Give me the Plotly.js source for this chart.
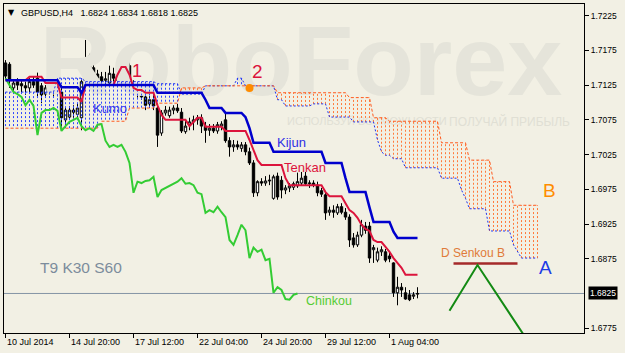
<!DOCTYPE html>
<html><head><meta charset="utf-8">
<script src="https://cdn.plot.ly/plotly-3.0.1.min.js"></script>
<style>html,body{margin:0;padding:0;background:#F2F0E4;}#chart{width:625px;height:353px;}</style>
</head><body><div id="chart"></div>
<script>
const symbolTitle = 'GBPUSD,H4';
const tickBars = [0, 16, 32, 48, 64, 80, 96];
const tickLabels = ['10 Jul 2014', '14 Jul 20:00', '17 Jul 12:00', '22 Jul 04:00', '24 Jul 20:00', '29 Jul 12:00', '1 Aug 04:00'];
const priceTicks = [1.6775, 1.6875, 1.6925, 1.6975, 1.7025, 1.7075, 1.7125, 1.7175, 1.7225];

const open = [
1.7157,1.7155,1.7121,1.7130,1.7127,1.7124,1.7121,1.7130,1.7135,1.7124,
1.7112,1.7121,1.7115,1.7118,1.7115,1.7075,1.7079,1.7089,1.7083,1.7078,
1.7132,1.7144,1.7150,1.7141,1.7137,1.7132,1.7128,1.7141,1.7132,1.7135,
1.7127,1.7153,1.7125,1.7118,1.7114,1.7108,1.7098,1.7104,1.7092,1.7056,
1.7085,1.7081,1.7089,1.7092,1.7086,1.7058,1.7068,1.7072,1.7075,1.7078,
1.7066,1.7060,1.7063,1.7059,1.7066,1.7075,1.7045,1.7036,1.7039,1.7034,
1.7039,1.7029,1.7013,1.6970,1.6986,1.6984,1.6987,1.6962,1.6994,1.6988,
1.6974,1.6977,1.6978,1.6980,1.6984,1.6994,1.6983,1.6984,1.6981,1.6973,
1.6967,1.6942,1.6945,1.6941,1.6950,1.6942,1.6935,1.6905,1.6895,1.6909,
1.6922,1.6922,1.6888,1.6873,1.6885,1.6885,1.6879,1.6869,1.6826,1.6834,
1.6826,1.6823,1.6821,1.6824];
const high = [
1.7161,1.7158,1.7132,1.7135,1.7132,1.7130,1.7135,1.7138,1.7143,1.7128,
1.7125,1.7127,1.7124,1.7124,1.7125,1.7092,1.7095,1.7096,1.7098,1.7135,
1.7190,1.7170,1.7155,1.7147,1.7144,1.7144,1.7153,1.7150,1.7141,1.7141,
1.7141,1.7158,1.7132,1.7127,1.7121,1.7115,1.7109,1.7115,1.7098,1.7089,
1.7095,1.7094,1.7096,1.7098,1.7092,1.7075,1.7078,1.7081,1.7082,1.7083,
1.7072,1.7069,1.7069,1.7072,1.7073,1.7085,1.7050,1.7046,1.7045,1.7043,
1.7043,1.7035,1.7017,1.6988,1.6991,1.6994,1.6996,1.6996,1.6999,1.6994,
1.6981,1.6984,1.6986,1.6999,1.7000,1.7000,1.6988,1.6988,1.6986,1.6977,
1.6971,1.6950,1.6952,1.6954,1.6955,1.6948,1.6939,1.6912,1.6914,1.6931,
1.6928,1.6928,1.6895,1.6891,1.6893,1.6889,1.6885,1.6870,1.6849,1.6840,
1.6834,1.6830,1.6827,1.6834];
const low = [
1.7132,1.7121,1.7115,1.7118,1.7115,1.7111,1.7115,1.7121,1.7109,1.7099,
1.7109,1.7111,1.7107,1.7109,1.7063,1.7068,1.7075,1.7078,1.7078,1.7060,
1.7130,1.7141,1.7135,1.7132,1.7127,1.7125,1.7124,1.7130,1.7128,1.7130,
1.7124,1.7121,1.7111,1.7107,1.7104,1.7089,1.7092,1.7089,1.7036,1.7052,
1.7081,1.7078,1.7083,1.7085,1.7056,1.7055,1.7060,1.7060,1.7068,1.7056,
1.7042,1.7052,1.7056,1.7055,1.7060,1.7042,1.7022,1.7029,1.7032,1.7029,
1.7024,1.7010,1.6964,1.6965,1.6980,1.6980,1.6981,1.6960,1.6960,1.6962,
1.6968,1.6971,1.6974,1.6977,1.6980,1.6980,1.6977,1.6978,1.6965,1.6964,
1.6931,1.6937,1.6934,1.6938,1.6939,1.6931,1.6892,1.6891,1.6892,1.6906,
1.6911,1.6869,1.6869,1.6870,1.6879,1.6870,1.6870,1.6820,1.6808,1.6820,
1.6816,1.6814,1.6817,1.6818];
const close = [
1.7138,1.7132,1.7128,1.7125,1.7124,1.7121,1.7130,1.7125,1.7115,1.7111,
1.7121,1.7115,1.7118,1.7114,1.7078,1.7089,1.7089,1.7086,1.7092,1.7130,
1.7161,1.7167,1.7140,1.7135,1.7131,1.7134,1.7142,1.7135,1.7137,1.7132,
1.7135,1.7125,1.7115,1.7112,1.7108,1.7096,1.7104,1.7095,1.7053,1.7085,
1.7089,1.7089,1.7092,1.7088,1.7059,1.7066,1.7072,1.7075,1.7078,1.7066,
1.7060,1.7063,1.7059,1.7068,1.7069,1.7045,1.7036,1.7039,1.7036,1.7039,
1.7029,1.7013,1.6970,1.6986,1.6984,1.6987,1.6988,1.6993,1.6964,1.6974,
1.6977,1.6980,1.6983,1.6986,1.6991,1.6983,1.6984,1.6981,1.6970,1.6968,
1.6941,1.6945,1.6942,1.6950,1.6942,1.6935,1.6902,1.6895,1.6909,1.6924,
1.6916,1.6876,1.6891,1.6885,1.6888,1.6873,1.6875,1.6826,1.6834,1.6830,
1.6817,1.6816,1.6823,1.6825];

const tenkan = [
1.7132,1.7132,1.7132,1.7132,1.7132,1.7132,1.7137,1.7137,1.7137,1.7137,
1.7128,1.7128,1.7128,1.7128,1.7107,1.7107,1.7107,1.7107,1.7107,1.7101,
1.7125,1.7125,1.7125,1.7125,1.7125,1.7125,1.7125,1.7125,1.7140,1.7151,
1.7151,1.7140,1.7121,1.7118,1.7118,1.7114,1.7114,1.7114,1.7096,1.7082,
1.7075,1.7075,1.7075,1.7075,1.7075,1.7075,1.7066,1.7072,1.7078,1.7078,
1.7065,1.7065,1.7065,1.7065,1.7065,1.7059,1.7059,1.7059,1.7059,1.7059,
1.7059,1.7046,1.7032,1.7017,1.7010,1.7010,1.7010,1.7010,1.7010,1.7010,
1.6991,1.6981,1.6981,1.6981,1.6981,1.6981,1.6981,1.6981,1.6981,1.6981,
1.6971,1.6965,1.6965,1.6965,1.6965,1.6955,1.6945,1.6941,1.6934,1.6924,
1.6918,1.6915,1.6902,1.6899,1.6899,1.6892,1.6885,1.6876,1.6869,1.6862,
1.6852,1.6852,1.6852,1.6852];
const kijun = [
1.7132,1.7132,1.7132,1.7132,1.7132,1.7132,1.7132,1.7132,1.7132,1.7132,
1.7132,1.7132,1.7132,1.7132,1.7122,1.7122,1.7122,1.7122,1.7122,1.7114,
1.7125,1.7125,1.7125,1.7125,1.7125,1.7125,1.7125,1.7125,1.7125,1.7125,
1.7125,1.7125,1.7125,1.7125,1.7125,1.7125,1.7125,1.7125,1.7114,1.7114,
1.7114,1.7114,1.7114,1.7114,1.7114,1.7114,1.7114,1.7114,1.7114,1.7114,
1.7104,1.7092,1.7092,1.7092,1.7092,1.7085,1.7085,1.7085,1.7085,1.7085,
1.7079,1.7063,1.7042,1.7042,1.7042,1.7042,1.7042,1.7029,1.7029,1.7029,
1.7029,1.7029,1.7029,1.7029,1.7029,1.7029,1.7029,1.7029,1.7029,1.7029,
1.7013,1.7013,1.7013,1.7013,1.7013,1.6991,1.6971,1.6971,1.6971,1.6971,
1.6971,1.6949,1.6928,1.6928,1.6928,1.6928,1.6928,1.6914,1.6905,1.6905,
1.6905,1.6905,1.6905,1.6905];
const senkouA = [
1.7115,1.7115,1.7115,1.7115,1.7115,1.7115,1.7115,1.7115,1.7115,1.7115,
1.7115,1.7115,1.7115,1.7135,1.7135,1.7135,1.7135,1.7135,1.7135,1.7135,
1.7130,1.7130,1.7130,1.7130,1.7130,1.7130,1.7130,1.7130,1.7130,1.7130,
1.7130,1.7130,1.7130,1.7130,1.7130,1.7130,1.7130,1.7130,1.7127,1.7127,
1.7127,1.7127,1.7127,1.7127,1.7112,1.7112,1.7112,1.7112,1.7112,1.7112,
1.7124,1.7124,1.7124,1.7124,1.7124,1.7124,1.7124,1.7124,1.7135,1.7135,
1.7124,1.7124,1.7124,1.7124,1.7124,1.7124,1.7124,1.7124,1.7104,1.7104,
1.7095,1.7095,1.7095,1.7095,1.7095,1.7095,1.7095,1.7098,1.7098,1.7098,
1.7098,1.7079,1.7079,1.7079,1.7079,1.7079,1.7079,1.7072,1.7072,1.7072,
1.7072,1.7072,1.7072,1.7046,1.7029,1.7024,1.7024,1.7019,1.7019,1.7019,
1.7006,1.7006,1.7006,1.7006,1.7006,1.7006,1.7006,1.7006,1.7006,1.6991,
1.6991,1.6991,1.6991,1.6991,1.6974,1.6962,1.6947,1.6947,1.6947,1.6947,
1.6947,1.6915,1.6915,1.6915,1.6915,1.6915,1.6915,1.6895,1.6885,1.6876,
1.6876,1.6876,1.6876,1.6876];
const senkouB = [
1.7063,1.7063,1.7063,1.7063,1.7063,1.7063,1.7063,1.7063,1.7063,1.7063,
1.7063,1.7063,1.7063,1.7063,1.7063,1.7063,1.7063,1.7063,1.7063,1.7063,
1.7063,1.7063,1.7063,1.7063,1.7073,1.7073,1.7073,1.7073,1.7073,1.7073,
1.7073,1.7092,1.7092,1.7092,1.7092,1.7092,1.7092,1.7092,1.7099,1.7099,
1.7099,1.7099,1.7099,1.7099,1.7121,1.7121,1.7121,1.7121,1.7121,1.7121,
1.7124,1.7124,1.7124,1.7124,1.7124,1.7124,1.7124,1.7124,1.7124,1.7124,
1.7124,1.7124,1.7124,1.7124,1.7124,1.7124,1.7124,1.7124,1.7114,1.7114,
1.7114,1.7114,1.7114,1.7114,1.7114,1.7114,1.7114,1.7114,1.7114,1.7114,
1.7114,1.7114,1.7114,1.7114,1.7114,1.7114,1.7107,1.7107,1.7107,1.7107,
1.7107,1.7107,1.7078,1.7078,1.7078,1.7078,1.7073,1.7073,1.7073,1.7073,
1.7073,1.7073,1.7073,1.7073,1.7073,1.7073,1.7073,1.7073,1.7073,1.7042,
1.7042,1.7042,1.7042,1.7042,1.7042,1.7042,1.7017,1.7017,1.7017,1.7017,
1.7017,1.7017,1.6986,1.6986,1.6986,1.6986,1.6986,1.6952,1.6952,1.6952,
1.6952,1.6952,1.6952,1.6952];
const chinkouShift = 30;

// hand-drawn forecast marks (bar index, price)
const targetLineBars = [112, 128];
const targetLinePrices = [1.6868, 1.6868];
const forecastBars = [111, 118, 130.75];
const forecastPrices = [1.6800, 1.6866, 1.6755];
const pointBar = [61];
const pointPrice = [1.7121];

const FONT = 'Liberation Sans, Arial, sans-serif';
const BG = '#F2F0E4';
const n = close.length;
const barIndex = close.map((_, i) => i);
const cloudIndex = senkouA.map((_, i) => i);

// cloud hatching from Senkou A/B
const hatchBlue = {x: [], y: []}, hatchOrange = {x: [], y: []};
senkouA.forEach((a, i) => {
  const b = senkouB[i];
  if (a === b) return;
  const t = a > b ? hatchBlue : hatchOrange;
  t.x.push(i, i, null); t.y.push(a, b, null);
});
const chX = [], chY = [];
for (let i = chinkouShift; i < n; i++) { chX.push(i - chinkouShift); chY.push(close[i]); }

const traces = [
  {type: 'scatter', mode: 'text', x: [73.9], y: [1.71468], text: ['RoboForex'], textposition: 'middle center',
   textfont: {family: 'Liberation Sans, Arial, sans-serif', size: 99, color: '#E5E4DA', weight: 'bold'}, cliponaxis: false, hoverinfo: 'skip'},
  {type: 'scatter', mode: 'text', x: [70.4], y: [1.70715], text: ['ИСПОЛЬЗУЙ ВОЗМОЖНОСТИ'], textposition: 'middle right',
   textfont: {family: FONT, size: 11, color: '#E0DFD4'}, cliponaxis: false, hoverinfo: 'skip'},
  {type: 'scatter', mode: 'text', x: [141.1], y: [1.70705], text: ['ПОЛУЧАЙ ПРИБЫЛЬ'], textposition: 'middle left',
   textfont: {family: FONT, size: 12, color: '#E0DFD4'}, cliponaxis: false, hoverinfo: 'skip'},
  {type: 'scatter', mode: 'lines', x: hatchBlue.x, y: hatchBlue.y, connectgaps: false,
   line: {color: '#3047FF', width: 1, dash: '2px,2px'}, hoverinfo: 'skip'},
  {type: 'scatter', mode: 'lines', x: hatchOrange.x, y: hatchOrange.y, connectgaps: false,
   line: {color: '#FF7A3A', width: 1, dash: '2px,2px'}, hoverinfo: 'skip'},
  {type: 'scatter', mode: 'lines', x: cloudIndex, y: senkouA, line: {color: '#1E32F0', width: 1, dash: '2px,2px'}, hoverinfo: 'skip'},
  {type: 'scatter', mode: 'lines', x: cloudIndex, y: senkouB, line: {color: '#FF5A1E', width: 1, dash: '3px,2px'}, hoverinfo: 'skip'},
  {type: 'candlestick', x: barIndex, open: open, high: high, low: low, close: close, whiskerwidth: 0,
   increasing: {line: {color: '#000000', width: 1}, fillcolor: '#FFFFFF'},
   decreasing: {line: {color: '#000000', width: 1}, fillcolor: '#000000'}, hoverinfo: 'skip'},
  {type: 'scatter', mode: 'lines', x: chX, y: chY, line: {color: '#33CC33', width: 2}, hoverinfo: 'skip'},
  {type: 'scatter', mode: 'lines', x: barIndex, y: tenkan, line: {color: '#DC143C', width: 2}, hoverinfo: 'skip'},
  {type: 'scatter', mode: 'lines', x: barIndex, y: kijun, line: {color: '#0000CD', width: 2.5}, hoverinfo: 'skip'},
  {type: 'scatter', mode: 'lines', x: targetLineBars, y: targetLinePrices, line: {color: '#A52A2A', width: 2.5}, hoverinfo: 'skip'},
  {type: 'scatter', mode: 'lines', x: forecastBars, y: forecastPrices, line: {color: '#138A13', width: 2}, hoverinfo: 'skip'},
  {type: 'scatter', mode: 'markers', x: pointBar, y: pointPrice, marker: {color: '#FF8C00', size: 8}, hoverinfo: 'skip'}
];

const labels = [
  {text: 'Kumo', x: 26.1, y: 1.7091, color: '#3535F0', size: 13},
  {text: '1', x: 32.9, y: 1.7145, color: '#DC143C', size: 18},
  {text: '2', x: 63.1, y: 1.7144, color: '#DC143C', size: 19},
  {text: 'Kijun', x: 71.6, y: 1.7043, color: '#2E2EE6', size: 13},
  {text: 'Tenkan', x: 74.9, y: 1.7006, color: '#DC143C', size: 13},
  {text: 'Chinkou', x: 80.9, y: 1.6814, color: '#55CC33', size: 12.5},
  {text: 'T9 K30 S60', x: 18.9, y: 1.6862, color: '#7C8C9C', size: 15.5},
  {text: 'D Senkou B', x: 116.9, y: 1.6883, color: '#E07B39', size: 12},
  {text: 'B', x: 135.9, y: 1.6974, color: '#FF8C00', size: 19},
  {text: 'A', x: 135.1, y: 1.6863, color: '#1E3CE6', size: 19}
];

const annotations = labels.map(l => ({
  text: l.text, x: l.x, y: l.y, xref: 'x', yref: 'y', showarrow: false,
  xanchor: 'center', yanchor: 'middle', font: {family: FONT, size: l.size, color: l.color}
}));
tickBars.forEach((b, k) => annotations.push({
  text: tickLabels[k], x: b, y: 0, xref: 'x', yref: 'paper', showarrow: false,
  xanchor: 'left', yanchor: 'top', yshift: -2, xshift: -1, font: {family: FONT, size: 9, color: '#000'}
}));
const last = n - 1;
annotations.push({
  text: '\u25BC', xref: 'paper', yref: 'paper', x: (11.5 - 4) / 580, y: (333 - 13) / 329,
  xanchor: 'center', yanchor: 'middle', showarrow: false, font: {family: 'DejaVu Sans, sans-serif', size: 8, color: '#000'}
});
annotations.push({
  text: symbolTitle + '\u00a0\u00a0\u00a0' + [open[last], high[last], low[last], close[last]].map(v => v.toFixed(4)).join('\u00a0'),
  xref: 'paper', yref: 'paper', x: (19 - 4) / 580, y: (333 - 13) / 329,
  xanchor: 'left', yanchor: 'middle', showarrow: false, font: {family: FONT, size: 9, color: '#000'}
});
annotations.push({
  text: close[last].toFixed(4), xref: 'paper', yref: 'y', x: 1, y: close[last],
  xanchor: 'left', yanchor: 'middle', xshift: 4, showarrow: false, bgcolor: '#000', borderpad: 1,
  font: {family: FONT, size: 8.5, color: '#FFF'}
});

const layout = {
  width: 625, height: 353,
  margin: {l: 4, r: 41, t: 4, b: 20, pad: 0},
  paper_bgcolor: BG, plot_bgcolor: BG,
  showlegend: false,
  boxgap: 0.4, boxgroupgap: 0,
  xaxis: {
    range: [-0.375, 144.625], showgrid: false, zeroline: false, showline: true, mirror: true,
    linecolor: '#000', linewidth: 1, ticks: 'outside', ticklen: 4, tickcolor: '#000', tickwidth: 1,
    tickvals: tickBars, showticklabels: false, rangeslider: {visible: false}, fixedrange: true
  },
  yaxis: {
    range: [1.67681, 1.72418], side: 'right', showgrid: false, zeroline: false, showline: true, mirror: true,
    linecolor: '#000', linewidth: 1, ticks: 'outside', ticklen: 4, tickcolor: '#000', tickwidth: 1,
    tickvals: priceTicks, ticktext: priceTicks.map(v => v.toFixed(4)),
    tickfont: {family: FONT, size: 8.5, color: '#000'}, fixedrange: true
  },
  shapes: [
    {type: 'line', xref: 'paper', yref: 'y', x0: 0, x1: 1, y0: close[last], y1: close[last],
     line: {color: '#8595A5', width: 1}, layer: 'below'}
  ],
  annotations: annotations
};

Plotly.newPlot('chart', traces, layout, {staticPlot: true, displayModeBar: false});
</script>
</body></html>
